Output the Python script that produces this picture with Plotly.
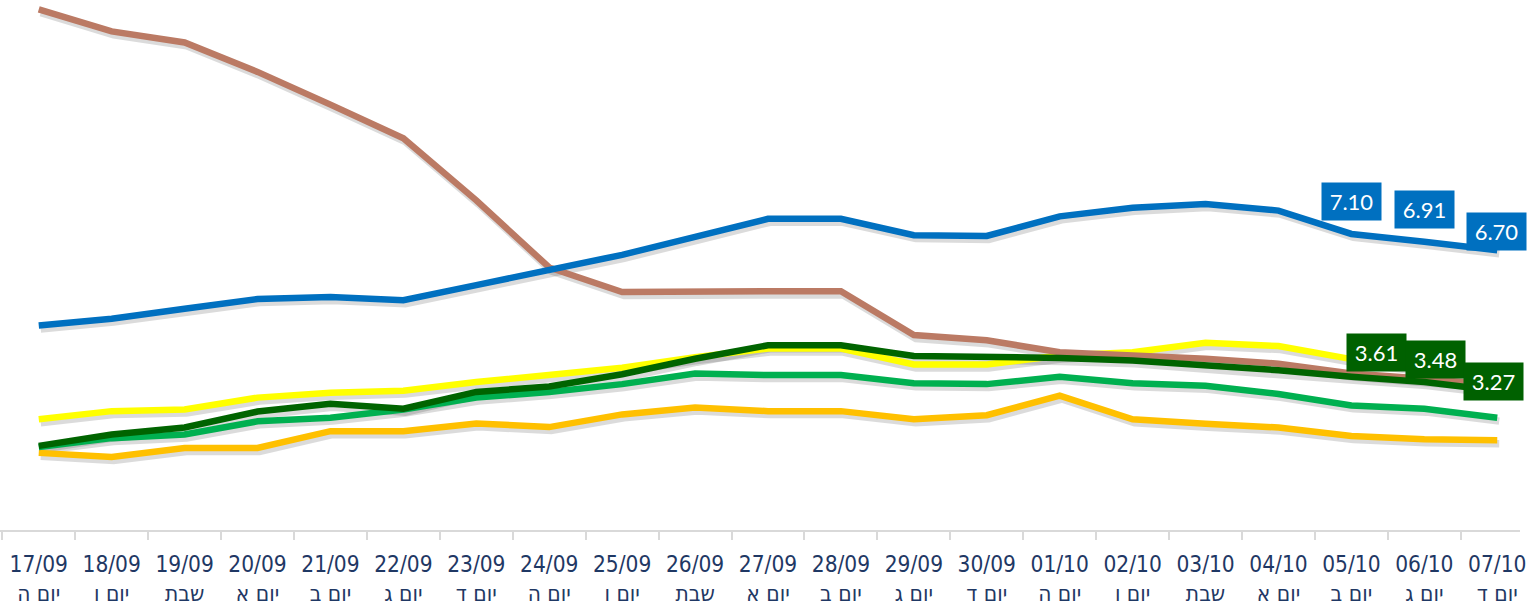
import plotly.graph_objects as go

dates = ["17/09", "18/09", "19/09", "20/09", "21/09", "22/09", "23/09", "24/09", "25/09", "26/09",
         "27/09", "28/09", "29/09", "30/09", "01/10", "02/10", "03/10", "04/10", "05/10", "06/10", "07/10"]
days = ["יום ה", "יום ו", "שבת", "יום א", "יום ב", "יום ג", "יום ד", "יום ה", "יום ו", "שבת",
        "יום א", "יום ב", "יום ג", "יום ד", "יום ה", "יום ו", "שבת", "יום א", "יום ב", "יום ג", "יום ד"]

brown = [12.59, 12.05, 11.78, 11.06, 10.26, 9.44, 7.92, 6.28, 5.68, 5.70, 5.70, 5.70, 4.63, 4.50,
         4.21, 4.13, 4.05, 3.93, 3.69, 3.56, 3.41]
blue = [4.86, 5.03, 5.27, 5.51, 5.56, 5.48, 5.85, 6.23, 6.59, 7.03, 7.47, 7.47, 7.07, 7.05,
        7.53, 7.74, 7.83, 7.67, 7.10, 6.91, 6.70]
yellow = [2.57, 2.77, 2.81, 3.10, 3.22, 3.27, 3.48, 3.65, 3.83, 4.09, 4.30, 4.30, 3.91, 3.91,
          4.13, 4.21, 4.44, 4.36, 4.04, 3.80, 3.58]
dark_green = [1.92, 2.20, 2.37, 2.76, 2.95, 2.83, 3.24, 3.37, 3.67, 4.05, 4.38, 4.38, 4.12, 4.10,
              4.07, 4.01, 3.89, 3.77, 3.61, 3.48, 3.27]
green = [1.89, 2.11, 2.20, 2.52, 2.61, 2.81, 3.10, 3.24, 3.43, 3.69, 3.65, 3.65, 3.45, 3.43,
         3.61, 3.45, 3.39, 3.19, 2.91, 2.83, 2.61]
orange = [1.75, 1.65, 1.87, 1.87, 2.28, 2.28, 2.47, 2.38, 2.69, 2.86, 2.77, 2.77, 2.57, 2.67,
          3.15, 2.57, 2.46, 2.37, 2.16, 2.08, 2.06]

blue_labels = [18, 19, 20]
green_labels = [18, 19, 20]

cats = [f"{d}<br>{w}" for d, w in zip(dates, days)]

series = [
    (yellow, "#FFFF00"),
    (brown, "#BB7A64"),
    (orange, "#FFC000"),
    (green, "#00B050"),
    (dark_green, "#006400"),
    (blue, "#0070C0"),
]

W, H = 1527, 606
PX_X = 73.26
PX_Y = 41.46
XR = [-0.5314, -0.5314 + W / PX_X]
YR = [-0.135, 12.817]
dx, dy = 2.0, 3.5

fig = go.Figure()

# soft shadows (base axes, shifted slightly down/right)
for vals, col in series:
    fig.add_trace(go.Scatter(x=cats, y=vals, mode="lines", xaxis="x", yaxis="y",
                             line=dict(color="rgba(0,0,0,0.14)", width=7.5),
                             hoverinfo="skip", showlegend=False))
# main lines
for vals, col in series:
    fig.add_trace(go.Scatter(x=cats, y=vals, mode="lines", xaxis="x2", yaxis="y2",
                             line=dict(color=col, width=6.5),
                             showlegend=False))

ann_font = dict(family="Lato, Carlito, Open Sans, sans-serif", size=22, color="white")
blue_shift = [(0, 32), (0, 32), (-1, 19)]
for i, (sx, sy) in zip(blue_labels, blue_shift):
    fig.add_annotation(x=cats[i], y=blue[i], xref="x2", yref="y2", text=f"{blue[i]:.2f}",
                       showarrow=False, xshift=sx, yshift=sy, bgcolor="#0070C0",
                       font=ann_font, width=51, height=29, borderpad=4)
green_shift = [(25, 24), (11, 23), (-4, 9)]
for i, (sx, sy) in zip(green_labels, green_shift):
    fig.add_annotation(x=cats[i], y=dark_green[i], xref="x2", yref="y2", text=f"{dark_green[i]:.2f}",
                       showarrow=False, xshift=sx, yshift=sy, bgcolor="#006100",
                       font=ann_font, width=51, height=29, borderpad=4)

fig.update_layout(
    width=W - 16, height=H - 16,
    margin=dict(l=0, r=0, t=0, b=69),
    paper_bgcolor="white", plot_bgcolor="white",
    showlegend=False,
    xaxis=dict(type="category", range=[XR[0] - dx / PX_X, XR[1] - dx / PX_X], visible=False,
               domain=[0, 1]),
    yaxis=dict(range=[YR[0] + dy / PX_Y, YR[1] + dy / PX_Y], visible=False),
    xaxis2=dict(type="category", overlaying="x", side="bottom", range=XR,
                showline=True, linecolor="#D9D9D9", linewidth=2,
                ticks="outside", tickson="boundaries", ticklen=8, tickcolor="#D9D9D9", tickwidth=2,
                showgrid=False, zeroline=False, ticklabelstandoff=13,
                tickfont=dict(family="Liberation Sans Narrow, Arial Narrow, DejaVu Sans Condensed, sans-serif",
                              size=22.5, color="#1F3864"),
                tickangle=0),
    yaxis2=dict(overlaying="y", range=YR, visible=False, showgrid=False, zeroline=False),
)

post = ("document.documentElement.style.margin='0';document.body.style.margin='0';"
        "document.body.style.overflow='hidden';"
        "Plotly.relayout(document.getElementById('{plot_id}'), {width: %d, height: %d});" % (W, H))

fig.write_html("out.html", config={"displayModeBar": False}, post_script=post)
